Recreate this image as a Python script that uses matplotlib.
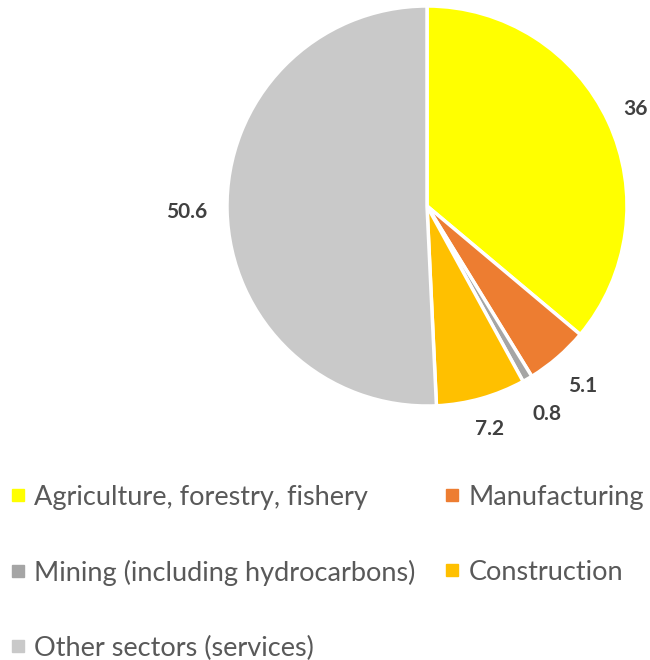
import matplotlib
matplotlib.use("Agg")
import matplotlib.pyplot as plt
from matplotlib.lines import Line2D
import numpy as np

categories = ["Agriculture, forestry, fishery", "Manufacturing",
              "Mining (including hydrocarbons)", "Construction",
              "Other sectors (services)"]
values = [36, 5.1, 0.8, 7.2, 50.6]
value_labels = ["36", "5.1", "0.8", "7.2", "50.6"]
colors = ["#FFFF00", "#ED7D31", "#A5A5A5", "#FFC000", "#C9C9C9"]

plt.rcParams['font.family'] = ['Lato', 'DejaVu Sans']

fig = plt.figure(figsize=(6.5, 6.6), dpi=100)
ax = fig.add_axes([227/650, 254/660, 400/650, 400/660])
wedges, _ = ax.pie(values, colors=colors, startangle=90, counterclock=False,
                   radius=1.0, wedgeprops=dict(edgecolor="white", linewidth=2.5))
ax.set_xlim(-1, 1)
ax.set_ylim(-1, 1)
ax.set_aspect("equal")

total = sum(values)
cum = 0
radii = [1.15, 1.19, 1.2, 1.16, 1.2]
for v, lab, r in zip(values, value_labels, radii):
    mid = 90 - (cum + v / 2) / total * 360
    cum += v
    a = np.deg2rad(mid)
    ax.text(r * np.cos(a), r * np.sin(a), lab, ha="center", va="center",
            fontsize=15, fontweight="bold", color="#404040", clip_on=False)

order = [0, 2, 4, 1, 3]
handles = [Line2D([], [], marker="s", linestyle="none", markersize=8,
                  markerfacecolor=colors[i], markeredgecolor=colors[i])
           for i in order]
labels = [categories[i] for i in order]
fig.legend(handles, labels, loc="upper left", bbox_to_anchor=(0.0, 0.282),
           ncol=2, frameon=False, fontsize=19.5, labelcolor="#595959",
           handlelength=0.5, handletextpad=0.35, labelspacing=1.84,
           columnspacing=1.12, borderaxespad=0)

fig.savefig("out.png", dpi=100)
